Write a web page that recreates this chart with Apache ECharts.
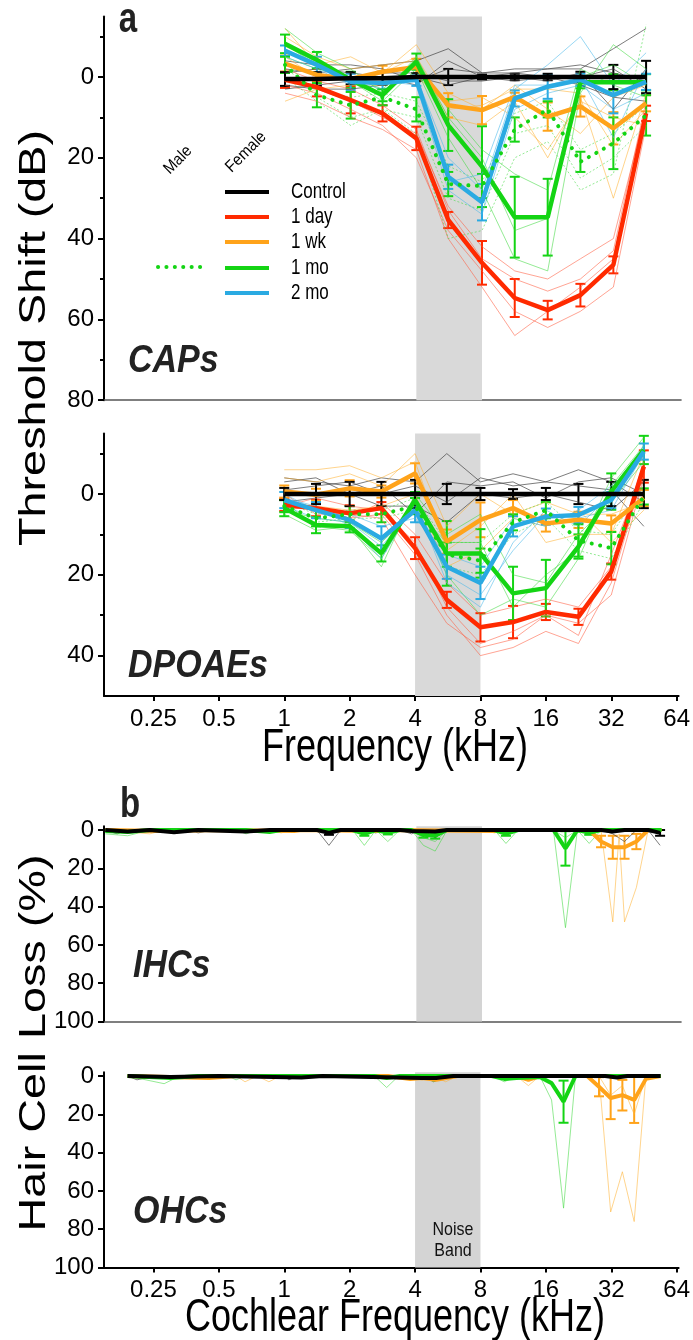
<!DOCTYPE html>
<html><head><meta charset="utf-8">
<script src="https://cdn.jsdelivr.net/npm/echarts@6/dist/echarts.min.js"></script>
<style>html,body{margin:0;padding:0;background:#fff}#c{width:693px;height:1340px}</style>
</head><body><div id="c"></div>
<script>
// ---------- tick labels ----------
const xTicksKHz = [0.25, 0.5, 1, 2, 4, 8, 16, 32, 64];
const capTicks = [0, 20, 40, 60, 80];
const capMinor = [-10, 10, 30, 50, 70];
const dpTicks = [0, 20, 40];
const dpMinor = [-10, 10, 30];
const hcTicks = [0, 20, 40, 60, 80, 100];
const legendNames = ['Control', '1 day', '1 wk', '1 mo', '2 mo'];

// ---------- test frequencies (kHz) ----------
const testFreq = [1, 1.4, 2, 2.8, 4, 5.6, 8, 11.3, 16, 22.6, 32, 45.2];

// ---------- CAP means / SEM ----------
const capCtrl = [0.5, 0.5, 0.3, 0.3, 0, 0, 0, 0, 0, 0, 0, 0];
const capCtrlErr = [1.7, 1.7, 1.5, 1.6, 1, 2, 0.6, 0.8, 0.8, 1.3, 3, 4];
const capDay = [0.7, 2.5, 5.7, 9, 15.2, 35.4, 46, 54.7, 57.7, 54, 46.5, 9];
const capDayErr = [2, 2.3, 3.3, 2, 2.9, 2, 5.4, 4.7, 2.3, 2.8, 2.1, 1.9];
const capWk = [-3.3, -0.5, 0.5, -1.3, -2.5, 7, 8.2, 4.9, 9.8, 7.3, 12.7, 6.5];
const capWkErr = [2, 1.5, 1.5, 1.5, 2, 3, 3.5, 1, 3.5, 2.5, 4, 2];
const capMo = [-8.2, -4.2, 0.7, 4.5, -3.8, 11.9, 22.2, 34.7, 34.7, 1.3, 1.3, 1.3];
const capMoErr = [2.3, 2, 2, 1.5, 2, 6.4, 10, 10, 9.5, 1.5, 2, 2];
const capMoMale = [-3, 4.5, 7, 5, 8, 26.5, 27, 13, 8, 21, 16.4, 9.5];
const capMoMaleErr = [2, 3, 3.3, 2, 3, 3, 3, 3, 2, 2.5, 6.4, 5];
const capMo2 = [-6.5, -3, 1.2, 1.5, 0.7, 24.7, 31, 5.3, 2.4, 0.7, 4.5, 1.2];
const capMo2Err = [1.3, 2, 2, 1.5, 1.5, 3, 4.5, 2, 3, 1.5, 4.5, 2];

// ---------- CAP individual animals ----------
const capCtrlInd = [
  [-2, -1, -2, -3, -4, -7, -1, -2, -2, -2, -7, -12],
  [2, 3, 3, 2, 0, 2, 0, 1, 0, 2, 5, 6],
  [-1, -2, -1, 0, 2, -4, 0, -1, 0, 0, -2, 3],
  [3, 2, 1, -1, -1, 1, 1, 0, 1, -1, 8, -2],
  [-4, -3, -3, -2, 1, -2, -1, -1, -2, -3, -1, 1]
];
const capDayInd = [
  [2, 4, 8, 12, 20, 38, 48, 58, 62, 58, 52, 12],
  [-2, 1, 3, 7, 13, 33, 45, 50, 53, 50, 43, 6],
  [4, 6, 10, 13, 18, 40, 52, 64, 58, 52, 45, 10],
  [0, 3, 6, 10, 14, 32, 42, 48, 50, 45, 40, 8]
];
const capWkInd = [
  [-10, -5, -2, -3, -4, 10, 12, 6, 20, 5, 30, 4],
  [-12, -3, -5, -1, -8, 4, 8, 2, 8, 14, 5, 2],
  [6, 3, 2, 2, 0, 6, 5, 10, 18, 6, 10, 12],
  [-5, 0, 1, -1, -5, 8, 7, 3, 3, 4, 17, 8]
];
const capMoInd = [
  [-12, -6, -2, 4, -5, 10, 20, 38, 35, 0, -3, 2],
  [-8, -3, 1, 6, -2, 15, 28, 45, 48, 4, -8, -2],
  [-5, -2, 0, 3, -4, 8, 18, 24, 28, -2, 2, 5]
];
const capMoMaleInd = [
  [-4, 5, 10, 8, 10, 30, 33, 14, 12, 25, 20, 12],
  [-2, 3, 5, 4, 6, 22, 26, 9, 6, 18, 14, 7],
  [0, 6, 12, 8, 14, 40, 38, 20, 16, 28, 24, -13]
];
const capMo2Ind = [
  [-8, -4, 0, 2, 0, 20, 28, 3, -3, -10, 2, -6],
  [-5, -2, 2, 1, 2, 28, 34, 8, 4, 2, 8, 4],
  [-7, -3, 1, 3, 0, 26, 24, 2, 2, 0, 15, -2]
];

// ---------- DPOAE means / SEM ----------
const dpCtrl = [0, 0, 0, 0, 0, 0, 0, 0, 0, 0, 0, 0];
const dpCtrlErr = [1.5, 2.5, 3, 3, 3.5, 2.5, 1.5, 1.2, 1.5, 2.5, 3, 3.5];
const dpDay = [2.7, 3.5, 4.8, 3.5, 13.4, 26.2, 33, 31.7, 29.2, 30.4, 19.2, -6.8];
const dpDayErr = [1.5, 2, 2, 1.5, 2.7, 2, 3.5, 4, 2, 2, 2, 4];
const dpWk = [-0.6, 0.2, -1.4, -0.6, -5.1, 11.8, 6.4, 3.5, 7.3, 6.4, 7.3, 1];
const dpWkErr = [1.5, 1.5, 2, 1.5, 2.5, 3, 4.3, 2, 2, 2, 2, 2];
const dpMo = [3.5, 7.7, 8, 14.7, 1.5, 14.7, 14.7, 24.6, 23.3, 13, -0.6, -10.9];
const dpMoErr = [2, 2, 1.5, 2, 2, 8, 6, 6.6, 7, 3, 4.5, 3.5];
const dpMoMale = [3, 6, 5, 5, 3, 15, 16.5, 7, 4, 11.5, 13.4, 0.6];
const dpMoMaleErr = [1.5, 2, 2, 2, 2, 3, 3, 2, 2, 4, 4, 2];
const dpMo2 = [1.5, 4, 6.4, 11, 4, 18, 22, 8, 5.6, 5.2, 1.5, -10.5];
const dpMo2Err = [2, 2, 2, 3, 3, 3, 4, 2.5, 2, 2, 2, 2];

// ---------- DPOAE individual animals ----------
const dpCtrlInd = [
  [-4, -3, -2, -4, -3, -10, -3, -5, -3, -6, -3, 2],
  [-1, -2, -3, 0, -2, 2, -4, -2, -3, -2, -1, 8],
  [2, 1, 0, 3, 3, 7, 0, 1, 0, 2, 4, -3],
  [-3, -4, 0, -2, 5, -3, -2, -3, 1, -3, -4, 0]
];
const dpDayInd = [
  [0, 5, 5, 6, 20, 32, 38, 36, 30, 32, 25, -4],
  [4, 3, 6, 2, 10, 22, 30, 28, 26, 28, 18, -8],
  [3, 1, 3, 4, 12, 28, 37, 34, 30, 35, 15, -6],
  [2, 4, 6, 5, 15, 30, 40, 38, 34, 37, 22, -5]
];
const dpWkInd = [
  [-6, -6, -7, -4, -8, 14, 8, 0, 12, 10, 10, -10],
  [-4, -3, -5, -2, -10, 8, 0, 5, 2, 5, 5, 2],
  [2, 3, 4, 3, 0, 18, 14, 6, 8, 4, 12, 4]
];
const dpMoInd = [
  [2, 8, 9, 16, 2, 20, 30, 26, 28, 16, -2, -12],
  [5, 9, 8, 18, 0, 10, 5, 20, 22, 10, 2, -8],
  [4, 6, 7, 12, 4, 12, 12, 28, 20, 14, -4, -14]
];
const dpMoMaleInd = [
  [4, 7, 6, 6, 4, 18, 20, 10, 6, 14, 16, 2],
  [2, 5, 4, 4, 1, 12, 12, 5, 2, 9, 10, -2]
];
const dpMo2Ind = [
  [1, 3, 8, 16, 2, 22, 28, 12, 4, 8, 0, -12],
  [0, 4, 5, 8, 6, 15, 18, 6, 8, 4, -2, -9],
  [3, 6, 7, 13, 3, 20, 25, 14, 5, 6, 4, -10]
];

// ---------- IHC cochleograms: [kHz, % loss] ----------
const ihcCtrlMean = [[0.15,0],[0.19,0.8],[0.24,0],[0.31,1.2],[0.4,0],[0.66,0.8],[0.85,0],[1.4,0],[1.59,1.5],[1.8,0],[3.36,0],[3.8,0.5],[4.88,0.8],[5.53,0],[28.1,0],[31.8,0.8],[36,0],[46.2,0],[52.4,1.5]];
const ihcCtrlErr = [[1.59,1.5,1],[52.4,1.5,1.5]];
const ihcMoMean = [[0.15,0.5],[0.19,1],[0.24,0],[0.66,0],[0.85,1],[0.96,0],[2.04,0],[2.31,2],[2.61,0],[2.96,1.5],[3.36,0],[3.8,0],[4.31,2.5],[4.88,3],[5.53,0],[9.12,0],[10.3,2],[11.7,0],[17,0],[19.3,9.6],[21.9,0],[24.8,1.5],[28.1,0],[53.2,0]];
const ihcMoErr = [[2.31,2,1],[2.96,1.5,0.8],[4.31,2.5,1.5],[4.88,3,1.5],[10.3,2,1],[19.3,9.6,9],[24.8,1.5,1]];
const ihcWkMean = [[0.15,0],[0.28,0.5],[0.5,0],[1.1,0.5],[1.2,0],[2.6,0.5],[3,0],[9.1,0.5],[10.3,0],[24.8,0],[28.1,6],[31.8,9],[36,9],[40.8,6],[46.2,0],[53.2,0]];
const ihcWkErr = [[28.1,6,3],[31.8,9,6],[36,9,6],[40.8,6,4]];
const ihcCtrlInd = [[0.15,0],[0.17,2],[0.19,0],[0.36,0],[0.4,1.5],[0.46,0],[1.4,0],[1.59,8],[1.8,0],[2.3,0],[2.6,1.5],[2.96,0],[3.36,0],[3.8,2],[4.31,0],[4.88,4],[5.53,0],[28,0],[31.8,2],[36,6],[40.8,0],[46.2,0],[52.4,8]];
const ihcMoInd1 = [[0.15,2],[0.19,3],[0.24,0],[0.6,0],[0.663,2],[0.75,0],[2.04,0],[2.31,8],[2.61,0],[2.96,6],[3.36,0],[3.8,0],[4.31,8],[4.88,11],[5.53,0],[9.12,0],[10.3,7],[11.7,0],[17,0],[19.3,51],[21.9,0],[24.8,7],[28.1,0],[53.2,0]];
const ihcMoInd2 = [[0.15,1],[0.24,0],[3.8,0],[4.31,4],[4.88,6],[5.53,0],[17,0],[19.3,4],[21.9,0]];
const ihcWkInd1 = [[0.15,0],[0.24,2],[0.28,0],[0.85,0],[0.96,1.5],[1.09,0],[2.04,0],[2.31,1.5],[2.61,0],[8,0],[9.12,1.5],[10.3,0],[28.1,0],[31.8,48],[34,2],[36,48],[40.8,30],[46.2,0],[53.2,0]];

// ---------- OHC cochleograms: [kHz, % loss] ----------
const ohcCtrlMean = [[0.19,0],[0.3,0.5],[0.5,0],[1.2,0.8],[1.5,0],[4.3,1],[5,1],[6,0],[30,0],[34,0.8],[38,0],[54,0]];
const ohcMoMean = [[0.19,0],[0.3,1],[0.4,0],[2.6,0],[2.96,1],[3.4,0],[9,0],[10.3,1.5],[11.7,1],[15,0.5],[17,3.7],[19.3,13.4],[21.9,0],[54,0]];
const ohcMoErr = [[19.3,13.4,11]];
const ohcWkMean = [[0.19,0],[0.45,1],[0.6,0],[3,0],[3.8,1.5],[4.3,1],[5,2],[6.27,0],[11.7,0],[13.3,2],[15,0],[24.8,0],[28.1,5.6],[31.8,11.5],[36,10],[40.8,12.5],[46.2,1.5],[54,0]];
const ohcWkErr = [[28.1,5.6,5],[31.8,11.5,11],[36,10,8],[40.8,12.5,12]];
const ohcCtrlInd = [[0.19,0],[0.21,2],[0.25,0],[1.0,0],[1.05,2],[1.15,0],[4.3,0],[4.88,3],[5.53,0],[54,0]];
const ohcMoInd = [[0.19,0],[0.28,4],[0.33,0],[0.55,0],[0.6,2],[0.66,0],[2.6,0],[2.96,6],[3.36,0],[3.8,2],[4.31,0],[4.88,3],[5.53,0],[9,0],[10.3,3],[11.7,0],[15,0],[17,12.5],[19.3,69],[21.9,0],[54,0]];
const ohcWkInd1 = [[0.19,0],[0.6,0],[0.66,3],[0.75,0],[0.85,3],[0.96,0],[3.8,0],[4.31,2],[4.88,0],[5.53,3],[6.27,0],[11.7,0],[13.3,5],[15,0],[28.1,0],[31.8,71],[36,50],[40.8,76],[46.2,0],[54,0]];
const ohcWkInd2 = [[28.1,0],[31.8,10],[36,5],[40.8,20],[46.2,0]];

// ---------- styling ----------
const COL = { ctrl: '#000000', day: '#ff2a00', wk: '#ffa31a', mo: '#14d414', mo2: '#2aaae2' };
const LIGHT = { ctrl: '#444444', day: '#ff5a3c', wk: '#ffb030', mo: '#3cd83c', mo2: '#44b6ea' };
const FONT = '"Liberation Sans", Arial, sans-serif';
const TICKFONT = '"Liberation Sans Narrow", "Arial Narrow", "Liberation Sans", sans-serif';
const yMain = [0, 2, 4, 5];

function lineSeries(grid, pts, color, width, extra) {
  return Object.assign({
    type: 'line', xAxisIndex: grid, yAxisIndex: yMain[grid],
    data: pts.map(p => [Math.log2(p[0]), p[1]]),
    symbol: 'none', showSymbol: false, silent: true, animation: false, z: 2,
    lineStyle: { color: color, width: width, opacity: 1 }
  }, extra || {});
}
function thin(grid, pts, key, dotted) {
  return lineSeries(grid, pts, LIGHT[key], 1, {
    lineStyle: { color: LIGHT[key], width: 1, opacity: key === 'ctrl' ? 0.7 : 0.55, type: dotted ? [2, 2] : 'solid' }
  });
}
function zipF(vals) { return testFreq.map((f, i) => [f, vals[i]]); }
function zipE(vals, errs) { return testFreq.map((f, i) => [f, vals[i], errs[i]]); }
function errSeries(grid, pts, color) {
  return {
    type: 'custom', xAxisIndex: grid, yAxisIndex: yMain[grid], z: 2, silent: true, animation: false,
    data: pts.map(p => [Math.log2(p[0]), p[1], p[2]]),
    encode: { x: 0, y: 1 },
    renderItem: function (params, api) {
      const x = api.value(0), m = api.value(1), e = api.value(2);
      const a = api.coord([x, m - e]), b = api.coord([x, m + e]);
      const w = 5;
      const mk = (x1, y1, x2, y2) => ({ type: 'line', shape: { x1, y1, x2, y2 }, style: { stroke: color, lineWidth: 2 } });
      return { type: 'group', children: [mk(a[0], a[1], b[0], b[1]), mk(a[0] - w, a[1], a[0] + w, a[1]), mk(b[0] - w, b[1], b[0] + w, b[1])] };
    }
  };
}
function band(grid, color) {
  return {
    type: 'line', xAxisIndex: grid, yAxisIndex: yMain[grid], data: [], z: 1, silent: true, animation: false,
    markArea: { silent: true, itemStyle: { color: color }, data: [[{ xAxis: Math.log2(4) }, { xAxis: Math.log2(8) }]] }
  };
}

const series = [];
function testPanel(g, ind, means) {
  series.push(band(g, '#d9d9d9'));
  ind.ctrl.forEach(a => series.push(thin(g, zipF(a), 'ctrl')));
  ind.day.forEach(a => series.push(thin(g, zipF(a), 'day')));
  ind.wk.forEach(a => series.push(thin(g, zipF(a), 'wk')));
  ind.mo.forEach(a => series.push(thin(g, zipF(a), 'mo')));
  ind.male.forEach(a => series.push(thin(g, zipF(a), 'mo', true)));
  ind.mo2.forEach(a => series.push(thin(g, zipF(a), 'mo2')));
  ['day', 'wk', 'mo', 'mo2'].forEach(k => {
    series.push(errSeries(g, zipE(means[k][0], means[k][1]), COL[k]));
    series.push(lineSeries(g, zipF(means[k][0]), COL[k], 4.5));
  });
  series.push(errSeries(g, zipE(means.male[0], means.male[1]), COL.mo));
  series.push(lineSeries(g, zipF(means.male[0]), COL.mo, 4, { lineStyle: { color: COL.mo, width: 4, type: [0.1, 8.5], cap: 'round' } }));
  series.push(errSeries(g, zipE(means.ctrl[0], means.ctrl[1]), COL.ctrl));
  series.push(lineSeries(g, zipF(means.ctrl[0]), COL.ctrl, 4.5));
}
testPanel(0,
  { ctrl: capCtrlInd, day: capDayInd, wk: capWkInd, mo: capMoInd, male: capMoMaleInd, mo2: capMo2Ind },
  { ctrl: [capCtrl, capCtrlErr], day: [capDay, capDayErr], wk: [capWk, capWkErr], mo: [capMo, capMoErr], male: [capMoMale, capMoMaleErr], mo2: [capMo2, capMo2Err] });
testPanel(1,
  { ctrl: dpCtrlInd, day: dpDayInd, wk: dpWkInd, mo: dpMoInd, male: dpMoMaleInd, mo2: dpMo2Ind },
  { ctrl: [dpCtrl, dpCtrlErr], day: [dpDay, dpDayErr], wk: [dpWk, dpWkErr], mo: [dpMo, dpMoErr], male: [dpMoMale, dpMoMaleErr], mo2: [dpMo2, dpMo2Err] });

// ----- IHC (grid 2) -----
series.push(band(2, '#d4d4d4'));
series.push(thin(2, ihcCtrlInd, 'ctrl'));
series.push(thin(2, ihcMoInd1, 'mo'));
series.push(thin(2, ihcMoInd2, 'mo'));
series.push(thin(2, ihcWkInd1, 'wk'));
series.push(errSeries(2, ihcWkErr, COL.wk));
series.push(lineSeries(2, ihcWkMean, COL.wk, 4));
series.push(errSeries(2, ihcMoErr, COL.mo));
series.push(lineSeries(2, ihcMoMean, COL.mo, 4));
series.push(errSeries(2, ihcCtrlErr, COL.ctrl));
series.push(lineSeries(2, ihcCtrlMean, COL.ctrl, 4));
// ----- OHC (grid 3) -----
series.push(band(3, '#d4d4d4'));
series.push(thin(3, ohcCtrlInd, 'ctrl'));
series.push(thin(3, ohcMoInd, 'mo'));
series.push(thin(3, ohcWkInd1, 'wk'));
series.push(thin(3, ohcWkInd2, 'wk'));
series.push(errSeries(3, ohcWkErr, COL.wk));
series.push(lineSeries(3, ohcWkMean, COL.wk, 4));
series.push(errSeries(3, ohcMoErr, COL.mo));
series.push(lineSeries(3, ohcMoMean, COL.mo, 4));
series.push(lineSeries(3, ohcCtrlMean, COL.ctrl, 4));

// ---------- axes ----------
const xMin = Math.log2(0.148), xMax = 6.03;
const xTickPos = xTicksKHz.map(Math.log2);
function fmtK(v) { const k = Math.pow(2, v); return String(Math.round(k * 100) / 100); }
function xAxis(g, labels) {
  return {
    type: 'value', gridIndex: g, min: xMin, max: xMax, position: 'bottom',
    axisLine: { show: true, onZero: false, lineStyle: { color: labels ? '#000' : '#555', width: labels ? 2 : 1.6 } },
    axisTick: { show: labels, length: 5, customValues: xTickPos, lineStyle: { color: '#000', width: 2 } },
    axisLabel: { show: labels, customValues: xTickPos, formatter: fmtK, fontSize: 24, fontFamily: TICKFONT, color: '#000', margin: 11 },
    splitLine: { show: false }
  };
}
function yAxis(g, min, max, ticks) {
  return {
    type: 'value', gridIndex: g, min, max, inverse: true, position: 'left',
    axisLine: { show: true, onZero: false, lineStyle: { color: '#000', width: 2 } },
    axisTick: { show: true, length: 6, customValues: ticks, lineStyle: { color: '#000', width: 2 } },
    axisLabel: { customValues: ticks, fontSize: 24, fontFamily: TICKFONT, color: '#000', margin: 10 },
    splitLine: { show: false }
  };
}
function yMinor(g, min, max, ticks) {
  return {
    type: 'value', gridIndex: g, min, max, inverse: true, position: 'left', offset: 0,
    axisLine: { show: false, onZero: false }, axisLabel: { show: false }, splitLine: { show: false },
    axisTick: { show: true, length: 4, customValues: ticks, lineStyle: { color: '#000', width: 2 } }
  };
}

// ---------- texts ----------
function txt(t, x, y, size, opts) {
  opts = opts || {};
  return {
    type: 'text', x, y, rotation: opts.rot || 0, scaleX: opts.sx || 1, scaleY: opts.sy || 1, silent: true, z: 100,
    style: {
      text: t, font: (opts.weight || '') + ' ' + size + 'px ' + FONT, fill: opts.fill || '#000',
      align: opts.align || 'center', verticalAlign: 'middle', textAlign: opts.align || 'center', textVerticalAlign: 'middle'
    }
  };
}
const legY = [192, 217, 242, 268, 293];
const legCols = [COL.ctrl, COL.day, COL.wk, COL.mo, COL.mo2];
const graphics = [
  txt('a', 128, 20, 33, { weight: 'bold', fill: '#222', sy: 1.27 }),
  txt('b', 130, 805, 33, { weight: 'bold', fill: '#222', sy: 1.27 }),
  txt('CAPs', 128, 361, 34, { weight: 'italic bold', fill: '#222', align: 'left', sy: 1.15 }),
  txt('DPOAEs', 128, 666, 34, { weight: 'italic bold', fill: '#222', align: 'left', sy: 1.15 }),
  txt('IHCs', 133, 966, 34, { weight: 'italic bold', fill: '#222', align: 'left', sy: 1.15 }),
  txt('OHCs', 133, 1212, 34, { weight: 'italic bold', fill: '#222', align: 'left', sy: 1.15 }),
  txt('Threshold Shift (dB)', 35, 338, 36, { rot: Math.PI / 2, sx: 1.3 }),
  txt('Hair Cell Loss (%)', 35, 1043, 36, { rot: Math.PI / 2, sx: 1.3 }),
  txt('Frequency (kHz)', 395, 748, 36, { sy: 1.27 }),
  txt('Cochlear Frequency (kHz)', 395, 1318, 36, { sy: 1.27 }),
  txt('Noise', 453, 1230, 16, { sy: 1.2, fill: '#111' }),
  txt('Band', 453, 1251, 16, { sy: 1.2, fill: '#111' }),
  txt('Male', 178, 160, 15, { rot: Math.PI / 4, sy: 1.1 }),
  txt('Female', 246, 152, 15, { rot: Math.PI / 4, sy: 1.1 })
];
legendNames.forEach((n, i) => {
  graphics.push({ type: 'line', silent: true, z: 100, shape: { x1: 225, y1: legY[i], x2: 269, y2: legY[i] }, style: { stroke: legCols[i], lineWidth: 4 } });
  graphics.push(txt(n, 291, legY[i], 17, { align: 'left', sy: 1.25 }));
});
graphics.push({ type: 'line', silent: true, z: 100, shape: { x1: 158, y1: 267, x2: 202, y2: 267 }, style: { stroke: COL.mo, lineWidth: 4, lineDash: [0.1, 8.3], lineCap: 'round' } });

const chart = echarts.init(document.getElementById('c'), null, { renderer: 'canvas' });
chart.setOption({
  animation: false,
  backgroundColor: '#ffffff',
  grid: [
    { left: 104, top: 16.4, width: 577, height: 383.8 },
    { left: 104, top: 433.4, width: 577, height: 262.6 },
    { left: 104, top: 826.2, width: 577, height: 195.3 },
    { left: 104, top: 1072.2, width: 577, height: 195.3 }
  ],
  xAxis: [xAxis(0, false), xAxis(1, true), xAxis(2, false), xAxis(3, true)],
  yAxis: [
    yAxis(0, -15, 80, capTicks), yMinor(0, -15, 80, capMinor),
    yAxis(1, -15, 50, dpTicks), yMinor(1, -15, 50, dpMinor),
    yAxis(2, -2, 100, hcTicks), yAxis(3, -2, 100, hcTicks)
  ],
  series: series,
  graphic: graphics
});
</script></body></html>
